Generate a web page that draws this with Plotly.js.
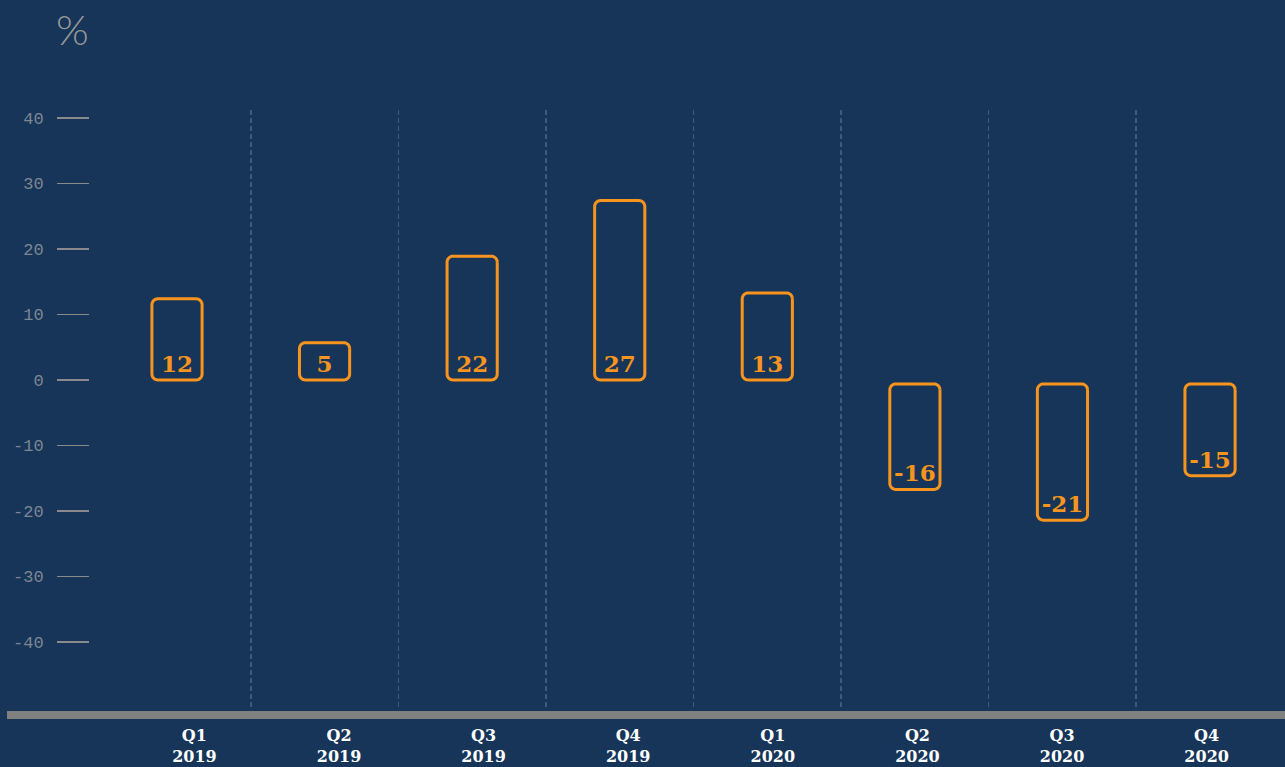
<!DOCTYPE html>
<html>
<head>
<meta charset="utf-8">
<script src="https://cdn.plot.ly/plotly-3.0.1.min.js"></script>
<style>html,body{margin:0;padding:0;background:#163558;}#chart{width:1285px;height:767px;}</style>
</head>
<body>
<div id="chart"></div>
<script>
// ---- data ----
const quarters = ['Q1', 'Q2', 'Q3', 'Q4', 'Q1', 'Q2', 'Q3', 'Q4'];
const years = ['2019', '2019', '2019', '2019', '2020', '2020', '2020', '2020'];
const labelValues = [12, 5, 22, 27, 13, -16, -21, -15];              // printed values
const barValues = [12.4, 5.7, 18.9, 27.4, 13.3, -16.7, -21.4, -14.6]; // drawn bar ends
const barStarts = [0, 0, 0, 0, 0, -0.6, -0.6, -0.6];                  // drawn bar starts
const yTicks = [40, 30, 20, 10, 0, -10, -20, -30, -40];
const unitLabel = '%';

// ---- styling / layout constants ----
const W = 1285, H = 767;
const M = {l: 90, r: 0, t: 110, b: 57};
const bg = '#163558';
const orange = '#f7941d';
const slab = 'DejaVu Serif';
const xRange = [-0.5895, 7.508];
const xLabRange = [-0.722, 7.542];
const yRange = [-50.38, 41.22];
const barW = 0.34;
const cornerPx = 6;

const idx = quarters.map((_, i) => i);
const tickText = quarters.map((q, i) => q + '<br>' + years[i]);

// rounded outline for every bar (all four corners rounded), built from data
const pxPerX = (W - M.l - M.r) / (xRange[1] - xRange[0]);
const pxPerY = (H - M.t - M.b) / (yRange[1] - yRange[0]);
const rx = cornerPx / pxPerX, ry = cornerPx / pxPerY;
const ox = [], oy = [];
barValues.forEach((v, i) => {
  const x0 = i - barW / 2, x1 = i + barW / 2;
  const lo = Math.min(barStarts[i], v), hi = Math.max(barStarts[i], v);
  const corners = [
    [x1 - rx, hi - ry, 0],
    [x0 + rx, hi - ry, Math.PI / 2],
    [x0 + rx, lo + ry, Math.PI],
    [x1 - rx, lo + ry, 1.5 * Math.PI]
  ];
  const startLen = ox.length;
  corners.forEach(([cx, cy, a0]) => {
    for (let k = 0; k <= 8; k++) {
      const a = a0 + (k / 8) * (Math.PI / 2);
      ox.push(cx + rx * Math.cos(a));
      oy.push(cy + ry * Math.sin(a));
    }
  });
  ox.push(ox[startLen]); oy.push(oy[startLen]);
  ox.push(null); oy.push(null);
});

const outline = {
  type: 'scatter', mode: 'lines', x: ox, y: oy,
  line: {color: orange, width: 3, simplify: false}, hoverinfo: 'skip', showlegend: false
};

function labelTrace(filter, anchor) {
  const ii = idx.filter(filter);
  return {
    type: 'bar',
    x: ii,
    y: ii.map(i => barValues[i] - barStarts[i]),
    base: ii.map(i => barStarts[i]),
    text: ii.map(i => String(labelValues[i])),
    textposition: 'inside',
    insidetextanchor: anchor,
    constraintext: 'none',
    textfont: {family: slab, size: 23, color: orange, weight: 'bold'},
    marker: {color: 'rgba(0,0,0,0)', line: {width: 0}},
    width: barW,
    hoverinfo: 'skip',
    showlegend: false
  };
}

// carrier for the category axis (draws nothing)
const categoryCarrier = {
  type: 'scatter', mode: 'none', xaxis: 'x2', yaxis: 'y',
  x: idx, y: idx.map(() => 0), hoverinfo: 'skip', showlegend: false
};

const data = [
  labelTrace(i => barValues[i] >= 0, 'start'),
  labelTrace(i => barValues[i] < 0, 'end'),
  outline,
  categoryCarrier
];

const layout = {
  width: W, height: H,
  paper_bgcolor: bg, plot_bgcolor: bg,
  margin: M,
  barmode: 'overlay',
  showlegend: false,
  xaxis: {
    range: xRange,
    tickvals: idx.slice(0, -1).map(i => i + 0.5),
    showticklabels: false, ticks: '',
    showgrid: true, gridcolor: '#3b5b7f', gridwidth: 1.5, griddash: '5px,3px',
    zeroline: false, showline: false, fixedrange: true
  },
  xaxis2: {
    overlaying: 'x', anchor: 'y', side: 'bottom',
    range: xLabRange,
    tickvals: idx, ticktext: tickText,
    ticks: '', showgrid: false, zeroline: false, showline: false,
    ticklabelstandoff: 14,
    tickfont: {family: slab, size: 16, color: '#ffffff', weight: 'bold'},
    fixedrange: true
  },
  yaxis: {
    range: yRange,
    tickvals: yTicks, ticktext: yTicks.map(v => String(v)),
    ticks: 'outside', ticklen: 32, tickwidth: 1.5, tickcolor: '#8a8a8a',
    ticklabelstandoff: 10,
    tickfont: {family: 'Liberation Mono', size: 17, color: '#7c8793'},
    showgrid: false, zeroline: false, showline: false, fixedrange: true
  },
  shapes: [{
    type: 'line', xref: 'paper', yref: 'paper',
    x0: -(M.l - 7) / (W - M.l - M.r), x1: 1, y0: -0.0085, y1: -0.0085,
    line: {color: '#808080', width: 8}, layer: 'above'
  }],
  annotations: [{
    text: unitLabel, xref: 'paper', yref: 'paper',
    x: -0.015, y: 1.135, xanchor: 'center', yanchor: 'middle', showarrow: false,
    font: {family: 'Lato', size: 42, color: '#9a9a9a', weight: 300}
  }]
};

Plotly.newPlot('chart', data, layout, {displayModeBar: false, staticPlot: true});
</script>
</body>
</html>
